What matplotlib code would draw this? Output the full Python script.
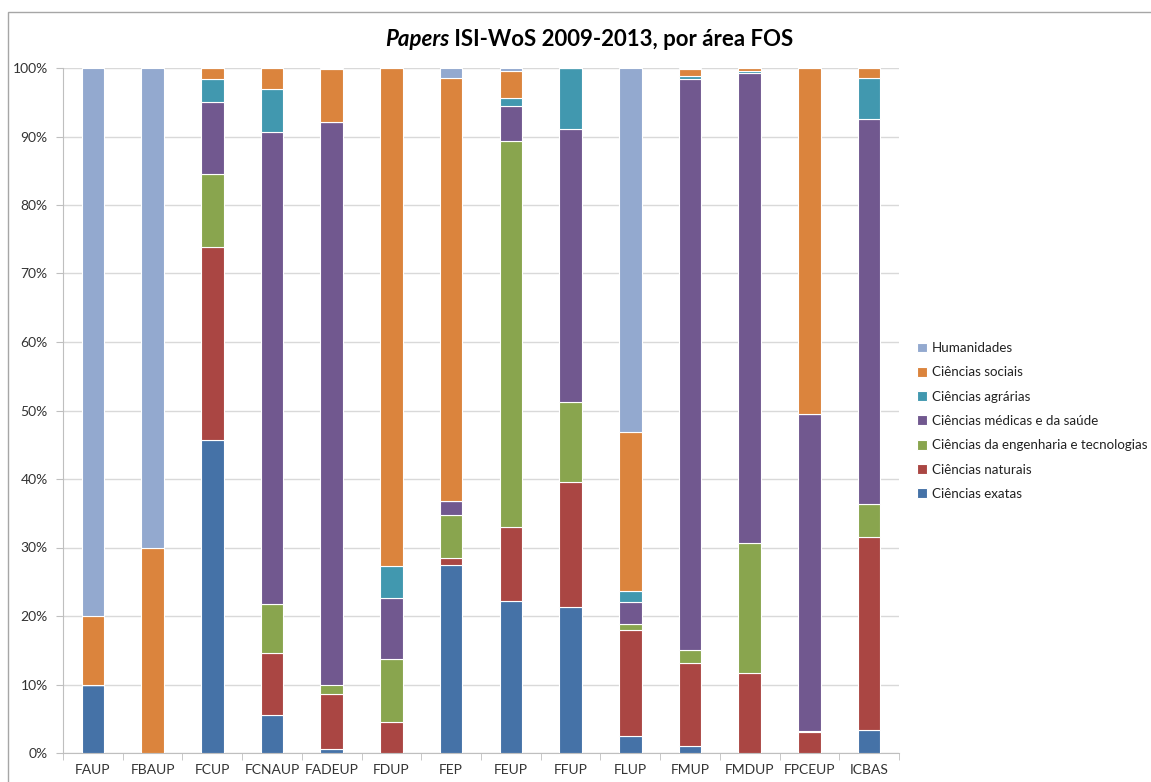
#!/usr/bin/env python3
# -*- coding: utf-8 -*-

import numpy as np
import matplotlib
matplotlib.use('Agg')
import matplotlib.pyplot as plt
from matplotlib.patches import Rectangle
from matplotlib.ticker import PercentFormatter, FixedLocator

plt.rcParams['font.family'] = ['Lato', 'DejaVu Sans']

# unidades orgânicas
units = ['FAUP', 'FBAUP', 'FCUP', 'FCNAUP', 'FADEUP', 'FDUP', 'FEP',
         'FEUP', 'FFUP', 'FLUP', 'FMUP', 'FMDUP', 'FPCEUP', 'ICBAS']

# percentagens por área FOS (de baixo para cima)
exatas = [10.0, 0.0, 45.7, 5.6, 0.6, 0.0, 27.4, 22.2, 21.3, 2.5, 1.0, 0.0, 0.0, 3.3]
naturais = [0.0, 0.0, 28.1, 9.0, 8.0, 4.5, 1.1, 10.8, 18.2, 15.5, 12.2, 11.7, 3.0, 28.3]
engenharia = [0.0, 0.0, 10.7, 7.1, 1.4, 9.2, 6.2, 56.4, 11.7, 0.9, 1.9, 19.0, 0.2, 4.8]
medicas = [0.0, 0.0, 10.5, 68.9, 82.1, 9.0, 2.1, 5.0, 39.9, 3.1, 83.3, 68.5, 46.3, 56.1]
agrarias = [0.0, 0.0, 3.4, 6.4, 0.0, 4.6, 0.0, 1.2, 8.9, 1.6, 0.5, 0.3, 0.0, 6.1]
sociais = [10.0, 30.0, 1.6, 3.0, 7.7, 72.7, 61.7, 4.0, 0.0, 23.3, 1.0, 0.5, 50.5, 1.4]
humanidades = [80.0, 70.0, 0.0, 0.0, 0.2, 0.0, 1.5, 0.4, 0.0, 53.1, 0.1, 0.0, 0.0, 0.0]

series = [
    ('Ciências exatas', exatas, '#4572a7'),
    ('Ciências naturais', naturais, '#aa4643'),
    ('Ciências da engenharia e tecnologias', engenharia, '#89a54e'),
    ('Ciências médicas e da saúde', medicas, '#71588f'),
    ('Ciências agrárias', agrarias, '#4198af'),
    ('Ciências sociais', sociais, '#db843d'),
    ('Humanidades', humanidades, '#93a9cf'),
]

fig = plt.figure(figsize=(11.51, 7.82), dpi=100)
ax = fig.add_axes([63 / 1151, 1 - 753 / 782, (899 - 63) / 1151, (753 - 68) / 782])

x = np.arange(len(units))
bottom = np.zeros(len(units))
for label, values, color in series:
    vals = np.array(values)
    ax.bar(x, vals, width=0.38, bottom=bottom, color=color, label=label,
           edgecolor='white', linewidth=0.8, zorder=3)
    bottom += vals

ax.set_xlim(-0.5, len(units) - 0.5)
ax.set_ylim(0, 100)
ax.set_yticks(np.arange(0, 101, 10))
ax.yaxis.set_major_formatter(PercentFormatter(decimals=0))
ax.set_xticks(x)
ax.set_xticklabels(units)
ax.xaxis.set_minor_locator(FixedLocator(np.arange(-0.5, len(units), 1)))
ax.tick_params(axis='x', which='major', length=0, pad=8, labelsize=10, colors='#333333')
ax.tick_params(axis='x', which='minor', length=5, color='#bfbfbf')
ax.tick_params(axis='y', length=5, color='#bfbfbf', labelsize=10, labelcolor='#333333', pad=6)

ax.grid(axis='y', color='#d9d9d9', linewidth=1, zorder=0)
ax.set_axisbelow(True)
for side in ['top', 'right']:
    ax.spines[side].set_visible(False)
for side in ['left', 'bottom']:
    ax.spines[side].set_color('#bfbfbf')

# legenda (ordem invertida, como no Excel)
handles, labels = ax.get_legend_handles_labels()
fig.legend(handles[::-1], labels[::-1], loc='center left',
           bbox_to_anchor=(912 / 1151, 1 - 421 / 782), frameon=False,
           fontsize=9.6, handlelength=0.75, handleheight=0.75, handletextpad=0.35,
           labelspacing=0.92, borderaxespad=0, labelcolor='#222222')

# título com "Papers" em itálico
fig.canvas.draw()
renderer = fig.canvas.get_renderer()
ty = 1 - 40 / 782
t1 = fig.text(0, ty, 'Papers', style='italic', fontweight='bold', fontsize=16, va='center')
t2 = fig.text(0, ty, ' ISI-WoS 2009-2013, por área FOS', fontweight='bold', fontsize=16, va='center')
w1 = t1.get_window_extent(renderer).width
w2 = t2.get_window_extent(renderer).width
x0 = 589 - (w1 + w2) / 2
t1.set_x(x0 / 1151)
t2.set_x((x0 + w1) / 1151)

# moldura da área do gráfico
fig.add_artist(Rectangle((8 / 1151, -0.1), 1.2, 1 - 12 / 782 + 0.1, transform=fig.transFigure,
                         fill=False, edgecolor='#a6a6a6', linewidth=1))

fig.savefig('out.png', dpi=100)
